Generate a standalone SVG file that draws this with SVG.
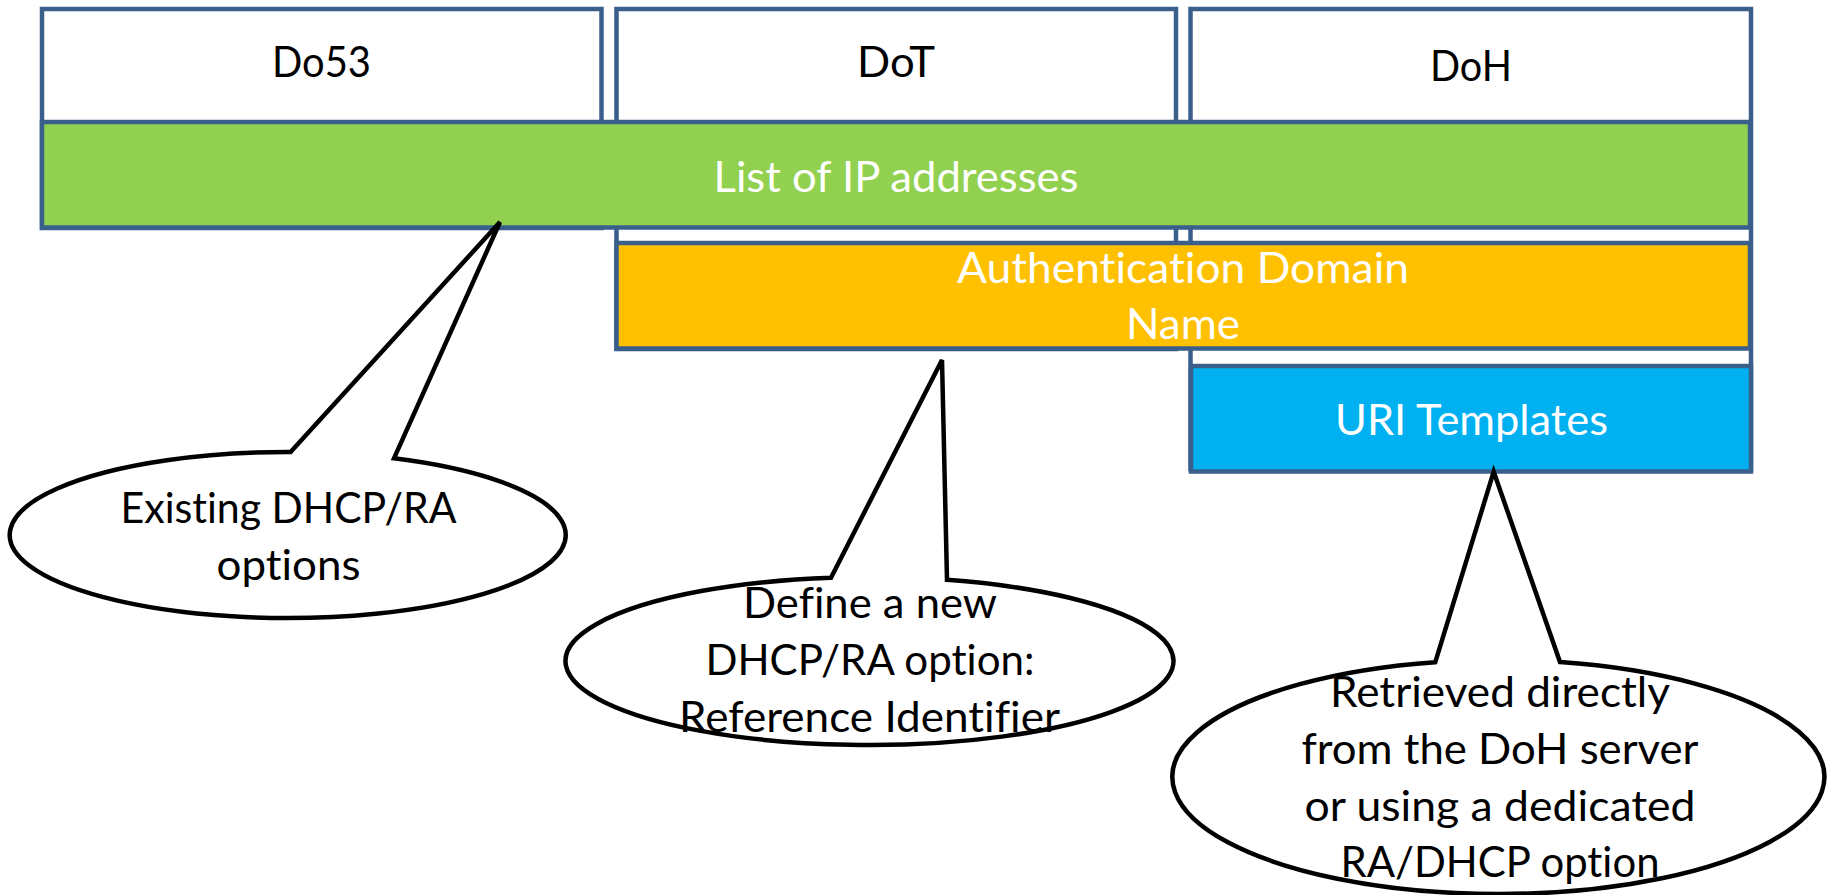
<svg xmlns="http://www.w3.org/2000/svg" width="1828" height="895" viewBox="0 0 1828 895">
  <style>
    .col { fill: #FFFFFF; stroke: #3A5F8B; stroke-width: 4.5; }
    .bar { stroke: #3A5F8B; stroke-width: 4.5; }
    .green { fill: #92D050; }
    .orange { fill: #FFC000; }
    .blue { fill: #00B0F0; }
    .callout { fill: #FFFFFF; stroke: #000000; stroke-width: 4.5; stroke-linejoin: miter; }
    text { font-family: Lato, "Liberation Sans", sans-serif; font-size: 42px; text-anchor: middle; font-variant-ligatures: none; font-feature-settings: "liga" 0, "dlig" 0; }
    .dark { fill: #000000; }
    .light { fill: #FFFFFF; }
  </style>

  <!-- protocol columns -->
  <g id="col-do53">
    <rect class="col" x="42" y="9" width="559.5" height="219"/>
    <text class="dark" x="321.5" y="77" textLength="99" lengthAdjust="spacingAndGlyphs">Do53</text>
  </g>
  <g id="col-dot">
    <rect class="col" x="616.5" y="9" width="559.5" height="340"/>
    <text class="dark" x="896" y="77" textLength="78" lengthAdjust="spacingAndGlyphs">DoT</text>
  </g>
  <g id="col-doh">
    <rect class="col" x="1190.5" y="9" width="560.5" height="460"/>
    <text class="dark" x="1471" y="81" textLength="82" lengthAdjust="spacingAndGlyphs">DoH</text>
  </g>

  <!-- information layers -->
  <g id="bar-ip-list">
    <rect class="bar green" x="42" y="122" width="1708" height="105.5"/>
    <text class="light" x="896" y="192" textLength="365" lengthAdjust="spacingAndGlyphs">List of IP addresses</text>
  </g>
  <g id="bar-adn">
    <rect class="bar orange" x="616.5" y="243" width="1133.5" height="105.5"/>
    <text class="light" x="1183" y="283" textLength="452" lengthAdjust="spacingAndGlyphs">Authentication Domain</text>
    <text class="light" x="1183" y="339" textLength="114" lengthAdjust="spacingAndGlyphs">Name</text>
  </g>
  <g id="bar-uri">
    <rect class="bar blue" x="1191" y="366" width="560" height="105.5"/>
    <text class="light" x="1471.5" y="435" textLength="273" lengthAdjust="spacingAndGlyphs">URI Templates</text>
  </g>

  <!-- speech-bubble callouts -->
  <g id="connectors">
    <g id="callout-existing">
      <path class="callout" d="M 290.6 452 L 500 222 L 394 458.3 A 278 83 0 1 1 290.6 452 Z"/>
      <text class="dark" x="288.5" y="523" textLength="336" lengthAdjust="spacingAndGlyphs">Existing DHCP/RA</text>
      <text class="dark" x="288.5" y="580" textLength="144" lengthAdjust="spacingAndGlyphs">options</text>
    </g>
    <g id="callout-new-option">
      <path class="callout" d="M 831 577.7 L 942 360 L 947 579.8 A 304 84 0 1 1 831 577.7 Z"/>
      <text class="dark" x="870" y="618" textLength="254" lengthAdjust="spacingAndGlyphs">Define a new</text>
      <text class="dark" x="870" y="675" textLength="329" lengthAdjust="spacingAndGlyphs">DHCP/RA option:</text>
      <text class="dark" x="869.5" y="732" textLength="381" lengthAdjust="spacingAndGlyphs">Reference Identifier</text>
    </g>
    <g id="callout-retrieved">
      <path class="callout" d="M 1435.3 662.2 L 1493.7 471.7 L 1560 662.1 A 326 117 0 1 1 1435.3 662.2 Z"/>
      <text class="dark" x="1500" y="707" textLength="340" lengthAdjust="spacingAndGlyphs">Retrieved directly</text>
      <text class="dark" x="1500" y="763.5" textLength="397" lengthAdjust="spacingAndGlyphs">from the DoH server</text>
      <text class="dark" x="1500" y="821" textLength="391" lengthAdjust="spacingAndGlyphs">or using a dedicated</text>
      <text class="dark" x="1500" y="877" textLength="319" lengthAdjust="spacingAndGlyphs">RA/DHCP option</text>
    </g>
  </g>
</svg>
